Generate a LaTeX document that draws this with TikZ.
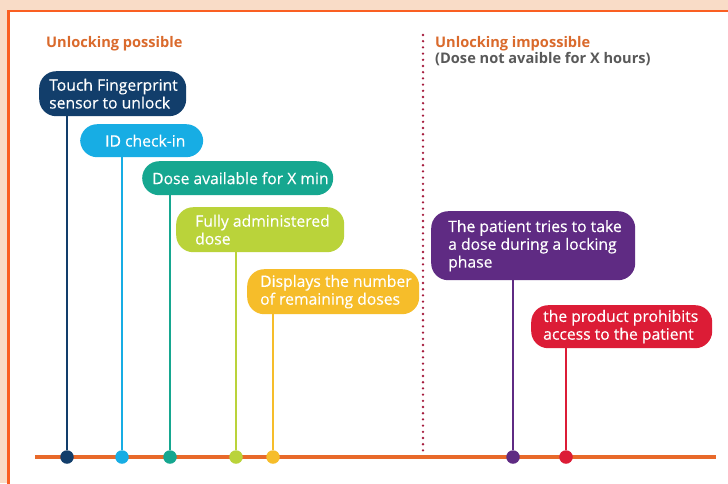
\documentclass[tikz,border=0pt]{standalone}
\usepackage{fontspec}
\setmainfont{Open Sans}
\newfontfamily\boxfont[FakeBold=0.35]{Open Sans}
\definecolor{peach}{HTML}{F9DCC7}
\definecolor{frameor}{HTML}{FA5F22}
\definecolor{lineor}{HTML}{E8692A}
\definecolor{heador}{HTML}{DA6A2C}
\definecolor{subgray}{HTML}{595959}
\definecolor{dotred}{HTML}{A51B3D}
\definecolor{cnavy}{HTML}{123E6B}
\definecolor{csky}{HTML}{17ADE4}
\definecolor{cteal}{HTML}{16A790}
\definecolor{clime}{HTML}{BAD33A}
\definecolor{cyellow}{HTML}{F6BD2A}
\definecolor{cpurple}{HTML}{5F2B83}
\definecolor{cred}{HTML}{DC1C36}
\begin{document}
\begin{tikzpicture}[x=1pt,y=-1pt,
  box/.style={draw=none, fill=#1, rounded corners=17pt, anchor=north west, inner sep=0pt},
  txt/.style={anchor=west, inner sep=0pt, align=left, text=white, font=\boxfont\fontsize{15.7}{17.8}\selectfont},
  head/.style={anchor=base west, inner sep=0pt, text=heador, font=\fontsize{14.6}{16}\selectfont\bfseries},
  subhead/.style={anchor=base west, inner sep=0pt, text=subgray, font=\fontsize{14.6}{16}\selectfont\bfseries},
  dot/.style={circle, fill=#1, minimum size=13.5pt, inner sep=0pt},
  conn/.style={draw=#1, line width=2pt},
  timeline/.style={draw=lineor, line width=4pt},
  sep/.style={draw=dotred, line width=2.6pt, line cap=round, dash pattern=on 0pt off 6.2pt}
]
\useasboundingbox (0,0) rectangle (728,483);
\clip (0,0) rectangle (728,483);
\fill[peach] (0,0) rectangle (728,483);
\draw[frameor, line width=2.6pt, fill=white] (8.5,11) rectangle (760,520);

% headers
\node[head] (h1) at (46,47) {Unlocking possible};
\node[head] (h2) at (435,47) {Unlocking impossible};
\node[subhead] (h3) at (435,63) {(Dose not avaible for X hours)};

% separator
\coordinate (sept) at (423,35);
\coordinate (sepb) at (423,455);
\draw[sep] (sept) -- (sepb);

% timeline
\coordinate (tl0) at (35,457);
\coordinate (tl1) at (716,457);
\draw[timeline] (tl0) -- (tl1);

% boxes
\node[box=cnavy, minimum width=147pt, minimum height=45pt] (n1) at (39,71) {};
\node[box=csky, minimum width=123pt, minimum height=33pt] (n2) at (80,124) {};
\node[box=cteal, minimum width=191pt, minimum height=34pt] (n3) at (142,161) {};
\node[box=clime, minimum width=168pt, minimum height=45pt] (n4) at (176,207) {};
\node[box=cyellow, minimum width=172pt, minimum height=45pt] (n5) at (247,269) {};
\node[box=cpurple, minimum width=204pt, minimum height=69pt] (n6) at (431,211) {};
\node[box=cred, minimum width=181pt, minimum height=43pt] (n7) at (531,305) {};

% texts
\node[txt] (t1) at ([xshift=10pt]n1.west) {Touch Fingerprint\\sensor to unlock};
\node[txt] (t2) at ([xshift=25pt]n2.west) {ID check-in};
\node[txt] (t3) at ([xshift=10pt]n3.west) {Dose available for X min};
\node[txt] (t4) at ([xshift=19pt]n4.west) {Fully administered\\dose};
\node[txt] (t5) at ([xshift=13pt]n5.west) {Displays the number\\of remaining doses};
\node[txt] (t6) at ([xshift=17pt]n6.west) {The patient tries to take\\a dose during a locking\\phase};
\node[txt] (t7) at ([xshift=12pt]n7.west) {the product prohibits\\access to the patient};

% dots
\node[dot=cnavy] (d1) at (67,457) {};
\node[dot=csky] (d2) at (122,457) {};
\node[dot=cteal] (d3) at (170,457) {};
\node[dot=clime] (d4) at (236,457) {};
\node[dot=cyellow] (d5) at (273,457) {};
\node[dot=cpurple] (d6) at (513,457) {};
\node[dot=cred] (d7) at (566,457) {};

% connectors
\draw[conn=cnavy] (n1.south -| d1) -- (d1);
\draw[conn=csky] (n2.south -| d2) -- (d2);
\draw[conn=cteal] (n3.south -| d3) -- (d3);
\draw[conn=clime] (n4.south -| d4) -- (d4);
\draw[conn=cyellow] (n5.south -| d5) -- (d5);
\draw[conn=cpurple] (n6.south -| d6) -- (d6);
\draw[conn=cred] (n7.south -| d7) -- (d7);
\end{tikzpicture}
\end{document}
